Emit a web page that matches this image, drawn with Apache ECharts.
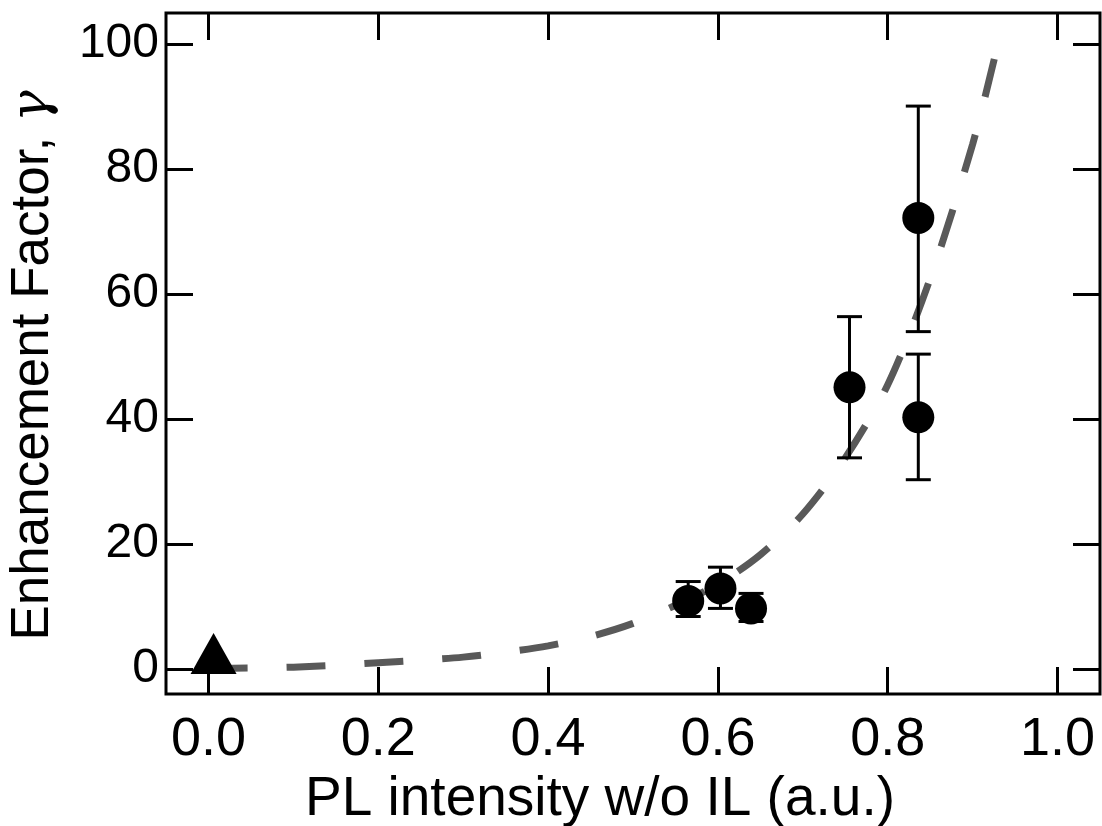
<!DOCTYPE html>
<html>
<head>
<meta charset="utf-8">
<script src="https://cdn.jsdelivr.net/npm/echarts@6/dist/echarts.min.js"></script>
<style>
  html, body { margin: 0; padding: 0; background: #fff; }
  #chart { width: 1102px; height: 826px; }
</style>
</head>
<body>
<div id="chart"></div>
<script>
// Measured enhancement factors with error bars: [x, y, low, high]
const measured = [
  [0.565, 10.9, 8.4, 14.0],
  [0.603, 12.9, 9.7, 16.3],
  [0.639, 9.7, 7.6, 12.1],
  [0.755, 45.1, 33.8, 56.4],
  [0.836, 72.2, 54.0, 90.1],
  [0.836, 40.3, 30.3, 50.4]
];
// Reference sample (triangle)
const reference = [[0.006, 2.5]];
// Fitted trend curve
const fitCurve = [
  [0.00, 0.1], [0.05, 0.15], [0.10, 0.3], [0.15, 0.6], [0.20, 1.0],
  [0.25, 1.4], [0.30, 1.9], [0.35, 2.7], [0.40, 3.7], [0.45, 5.2],
  [0.50, 7.3], [0.55, 10.2], [0.60, 13.6], [0.65, 18.3], [0.70, 24.8],
  [0.75, 33.8], [0.80, 45.5], [0.85, 62.5], [0.90, 84.0], [0.927, 98.5]
];
const xTicks = [0, 0.2, 0.4, 0.6, 0.8, 1.0];
const yTicks = [0, 20, 40, 60, 80, 100];

const FONT = 'Liberation Sans, Arial, Helvetica, sans-serif';
const tickStyle = { show: true, inside: true, length: 27, lineStyle: { color: '#000', width: 3 } };

const chart = echarts.init(document.getElementById('chart'), null, { renderer: 'canvas' });

const xBase = {
  type: 'value', min: -0.05, max: 1.05,
  splitLine: { show: false },
  axisLine: { show: false, onZero: false }
};
const yBase = {
  type: 'value', min: -4, max: 105,
  splitLine: { show: false },
  axisLine: { show: false, onZero: false }
};

chart.setOption({
  animation: false,
  backgroundColor: '#fff',
  grid: {
    left: 166, right: 2, top: 13, bottom: 132,
    outerBoundsMode: 'none', containLabel: false,
    show: true, borderColor: '#000', borderWidth: 3, backgroundColor: 'transparent'
  },
  xAxis: [
    Object.assign({}, xBase, {
      position: 'bottom',
      axisTick: Object.assign({ customValues: xTicks }, tickStyle),
      axisLabel: {
        customValues: xTicks, margin: 19, color: '#000', fontSize: 54, fontFamily: FONT,
        formatter: v => v.toFixed(1)
      },
      name: 'PL intensity w/o IL (a.u.)', nameLocation: 'middle', nameGap: 71,
      nameTextStyle: { color: '#000', fontSize: 55, fontFamily: FONT, padding: [0, 66, 0, 0] }
    }),
    Object.assign({}, xBase, {
      position: 'top',
      axisTick: Object.assign({ customValues: xTicks }, tickStyle),
      axisLabel: { show: false }
    })
  ],
  yAxis: [
    Object.assign({}, yBase, {
      position: 'left',
      axisTick: Object.assign({ customValues: yTicks }, tickStyle),
      axisLabel: {
        customValues: yTicks, margin: 7, color: '#000', fontSize: 48, fontFamily: FONT,
        formatter: v => String(Math.round(v))
      },
      name: '{t|Enhancement Factor, }{g|γ}', nameLocation: 'middle', nameGap: 106,
      nameTextStyle: {
        color: '#000', fontSize: 53, fontFamily: FONT, padding: [0, 24, 0, 0],
        rich: {
          t: { fontSize: 53, fontFamily: FONT, color: '#000' },
          g: { fontSize: 53, fontFamily: 'DejaVu Serif, serif', fontStyle: 'italic', color: '#000' }
        }
      }
    }),
    Object.assign({}, yBase, {
      position: 'right',
      axisTick: Object.assign({ customValues: yTicks }, tickStyle),
      axisLabel: { show: false }
    })
  ],
  series: [
    {
      name: 'fit', type: 'line', data: fitCurve, smooth: 0.3,
      showSymbol: false, symbol: 'none', z: 1,
      lineStyle: { color: '#595959', width: 7, type: [39, 39], cap: 'butt' }
    },
    {
      name: 'errors', type: 'custom', z: 2,
      data: measured,
      renderItem: function (params, api) {
        const x = api.value(0);
        const lo = api.coord([x, api.value(2)]);
        const hi = api.coord([x, api.value(3)]);
        const half = 12.5;
        const style = { stroke: '#000', lineWidth: 3 };
        return {
          type: 'group',
          children: [
            { type: 'line', shape: { x1: lo[0], y1: lo[1], x2: hi[0], y2: hi[1] }, style: style },
            { type: 'line', shape: { x1: lo[0] - half, y1: lo[1], x2: lo[0] + half, y2: lo[1] }, style: style },
            { type: 'line', shape: { x1: hi[0] - half, y1: hi[1], x2: hi[0] + half, y2: hi[1] }, style: style }
          ]
        };
      },
      encode: { x: 0, y: 1 }
    },
    {
      name: 'measured', type: 'scatter', z: 3,
      data: measured.map(d => [d[0], d[1]]),
      symbol: 'circle', symbolSize: 32,
      itemStyle: { color: '#000', opacity: 1 }
    },
    {
      name: 'reference', type: 'scatter', z: 3,
      data: reference,
      symbol: 'triangle', symbolSize: [46, 41],
      itemStyle: { color: '#000', opacity: 1 }
    }
  ]
});
</script>
</body>
</html>
